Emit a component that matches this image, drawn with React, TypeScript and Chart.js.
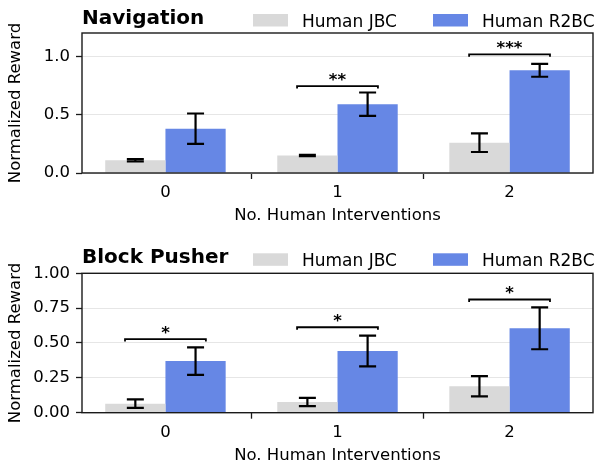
import React, { useEffect, useRef } from 'react';
import { Chart, registerables } from 'chart.js';
Chart.register(...registerables);

const categories = ['0', '1', '2'];
const seriesLabels = ['Human JBC', 'Human R2BC'];
const seriesColors = ['#d9d9d9', '#6687e5'];

const navTitle = 'Navigation';
const navJBC = [0.11, 0.15, 0.26];
const navJBCErr = [0.01, 0.005, 0.08];
const navR2BC = [0.38, 0.59, 0.88];
const navR2BCErr = [0.13, 0.1, 0.055];
const navSigIdx = [1, 2];
const navSigY = [0.745, 1.017];
const navSigStars = ['**', '***'];
const navTicks = [0, 0.5, 1.0];
const navMax = 1.2;
const navDecimals = 1;

const pushTitle = 'Block Pusher';
const pushJBC = [0.065, 0.077, 0.19];
const pushJBCErr = [0.03, 0.03, 0.073];
const pushR2BC = [0.37, 0.443, 0.605];
const pushR2BCErr = [0.098, 0.11, 0.15];
const pushSigIdx = [0, 1, 2];
const pushSigY = [0.528, 0.613, 0.812];
const pushSigStars = ['*', '*', '*'];
const pushTicks = [0, 0.25, 0.5, 0.75, 1.0];
const pushMax = 1.0;
const pushDecimals = 2;

const xLabel = 'No. Human Interventions';
const yLabel = 'Normalized Reward';

const FONT = "'DejaVu Sans', sans-serif";

type PanelProps = {
  title: string;
  jbc: number[];
  jbcErr: number[];
  r2bc: number[];
  r2bcErr: number[];
  sigIdx: number[];
  sigY: number[];
  sigStars: string[];
  ticks: number[];
  max: number;
  decimals: number;
  top: number;
  bottom: number;
  titleBase: number;
  legendTop: number;
};

function Panel(p: PanelProps) {
  const ref = useRef<HTMLCanvasElement | null>(null);
  useEffect(() => {
    if (!ref.current) return;
    const H = 233;
    const errs = [p.jbcErr, p.r2bcErr];
    const overlay = {
      id: 'overlay',
      afterDatasetsDraw(chart: any) {
        const ctx = chart.ctx;
        const ys = chart.scales.y;
        const xs = chart.scales.x;
        ctx.save();
        ctx.strokeStyle = '#000';
        ctx.lineWidth = 2.2;
        chart.data.datasets.forEach((ds: any, di: number) => {
          const meta = chart.getDatasetMeta(di);
          meta.data.forEach((el: any, i: number) => {
            const v = ds.data[i].y;
            const e = errs[di][i];
            const y1 = ys.getPixelForValue(v + e);
            const y2 = ys.getPixelForValue(v - e);
            const cx = el.x;
            ctx.beginPath();
            ctx.moveTo(cx, y1);
            ctx.lineTo(cx, y2);
            ctx.moveTo(cx - 8.5, y1);
            ctx.lineTo(cx + 8.5, y1);
            ctx.moveTo(cx - 8.5, y2);
            ctx.lineTo(cx + 8.5, y2);
            ctx.stroke();
          });
        });
        // significance brackets
        ctx.lineWidth = 1.8;
        p.sigIdx.forEach((ci, k) => {
          const xl = xs.getPixelForValue(ci - 0.235);
          const xr = xs.getPixelForValue(ci + 0.235);
          const yy = ys.getPixelForValue(p.sigY[k]);
          ctx.beginPath();
          ctx.moveTo(xl, yy + 2.5);
          ctx.lineTo(xl, yy);
          ctx.lineTo(xr, yy);
          ctx.lineTo(xr, yy + 2.5);
          ctx.stroke();
          ctx.fillStyle = '#000';
          ctx.font = `bold 16.5px ${FONT}`;
          ctx.textAlign = 'center';
          ctx.textBaseline = 'alphabetic';
          ctx.fillText(p.sigStars[k], xs.getPixelForValue(ci), yy - 1.5);
        });
        // frame
        const a = chart.chartArea;
        ctx.lineWidth = 1.4;
        ctx.strokeStyle = '#1a1a1a';
        ctx.strokeRect(a.left, a.top, a.right - a.left, a.bottom - a.top);
        ctx.restore();
      },
      afterDraw(chart: any) {
        const ctx = chart.ctx;
        const a = chart.chartArea;
        ctx.save();
        ctx.fillStyle = '#000';
        // title
        ctx.font = `bold 20px ${FONT}`;
        ctx.textAlign = 'left';
        ctx.textBaseline = 'alphabetic';
        ctx.fillText(p.title, a.left, p.titleBase);
        // legend
        const boxX = [253, 433];
        const textX = [302, 482];
        ctx.font = `17px ${FONT}`;
        chart.data.datasets.forEach((ds: any, di: number) => {
          ctx.fillStyle = ds.backgroundColor;
          ctx.fillRect(boxX[di], p.legendTop, 35, 12.5);
          ctx.fillStyle = '#000';
          ctx.fillText(ds.label, textX[di], p.legendTop + 12.7);
        });
        // axis titles
        ctx.font = `16.5px ${FONT}`;
        ctx.textAlign = 'center';
        ctx.textBaseline = 'middle';
        ctx.fillText(xLabel, (a.left + a.right) / 2, a.bottom + 43);
        ctx.translate(16, (a.top + a.bottom) / 2);
        ctx.rotate(-Math.PI / 2);
        ctx.fillText(yLabel, 0, 0);
        ctx.restore();
      },
    };
    const chart = new Chart(ref.current, {
      type: 'bar',
      data: {
        datasets: [
          {
            label: seriesLabels[0],
            data: categories.map((c, i) => ({ x: i, y: p.jbc[i] })),
            backgroundColor: seriesColors[0],
            borderWidth: 0,
            categoryPercentage: 0.7,
            barPercentage: 1.0,
          },
          {
            label: seriesLabels[1],
            data: categories.map((c, i) => ({ x: i, y: p.r2bc[i] })),
            backgroundColor: seriesColors[1],
            borderWidth: 0,
            categoryPercentage: 0.7,
            barPercentage: 1.0,
          },
        ],
      },
      options: {
        animation: false,
        responsive: false,
        devicePixelRatio: 1,
        layout: { padding: { top: p.top, right: 4, left: 0, bottom: 0 } },
        plugins: { legend: { display: false }, tooltip: { enabled: false }, title: { display: false } },
        scales: {
          x: {
            type: 'linear',
            min: -0.485,
            max: 2.485,
            offset: false,
            afterBuildTicks: (s: any) => {
              s.ticks = categories.map((c, i) => ({ value: i }));
            },
            afterFit: (s: any) => {
              s.height = H - p.bottom;
            },
            ticks: {
              callback: (v: any) => categories[v] ?? '',
              color: '#000',
              font: { family: FONT, size: 16.5 },
              padding: 4,
              maxRotation: 0,
              autoSkip: false,
            },
            grid: { drawOnChartArea: false, drawTicks: true, tickLength: 6, tickColor: '#1a1a1a', tickWidth: 1.3 },
            border: { display: false },
          },
          y: {
            type: 'linear',
            min: 0,
            max: p.max,
            afterBuildTicks: (s: any) => {
              s.ticks = p.ticks.map((v) => ({ value: v }));
            },
            afterFit: (s: any) => {
              s.width = 82;
            },
            ticks: {
              callback: (v: any) => Number(v).toFixed(p.decimals),
              color: '#000',
              font: { family: FONT, size: 16.5 },
              padding: 6,
            },
            grid: { color: '#e6e6e6', lineWidth: 1, tickLength: 6, tickColor: '#1a1a1a', tickWidth: 1.3 },
            border: { display: false },
          },
        },
      },
      plugins: [overlay],
    } as any);
    return () => chart.destroy();
  }, []);
  return <canvas ref={ref} width={597} height={233} style={{ display: 'block', width: 597, height: 233 }} />;
}

export default function App() {
  return (
    <div style={{ position: 'absolute', left: 0, top: 0, width: 597, height: 466, background: '#fff' }}>
      <Panel
        title={navTitle}
        jbc={navJBC}
        jbcErr={navJBCErr}
        r2bc={navR2BC}
        r2bcErr={navR2BCErr}
        sigIdx={navSigIdx}
        sigY={navSigY}
        sigStars={navSigStars}
        ticks={navTicks}
        max={navMax}
        decimals={navDecimals}
        top={33}
        bottom={173}
        titleBase={24}
        legendTop={14}
      />
      <Panel
        title={pushTitle}
        jbc={pushJBC}
        jbcErr={pushJBCErr}
        r2bc={pushR2BC}
        r2bcErr={pushR2BCErr}
        sigIdx={pushSigIdx}
        sigY={pushSigY}
        sigStars={pushSigStars}
        ticks={pushTicks}
        max={pushMax}
        decimals={pushDecimals}
        top={40.3}
        bottom={179.7}
        titleBase={30}
        legendTop={20.3}
      />
    </div>
  );
}
